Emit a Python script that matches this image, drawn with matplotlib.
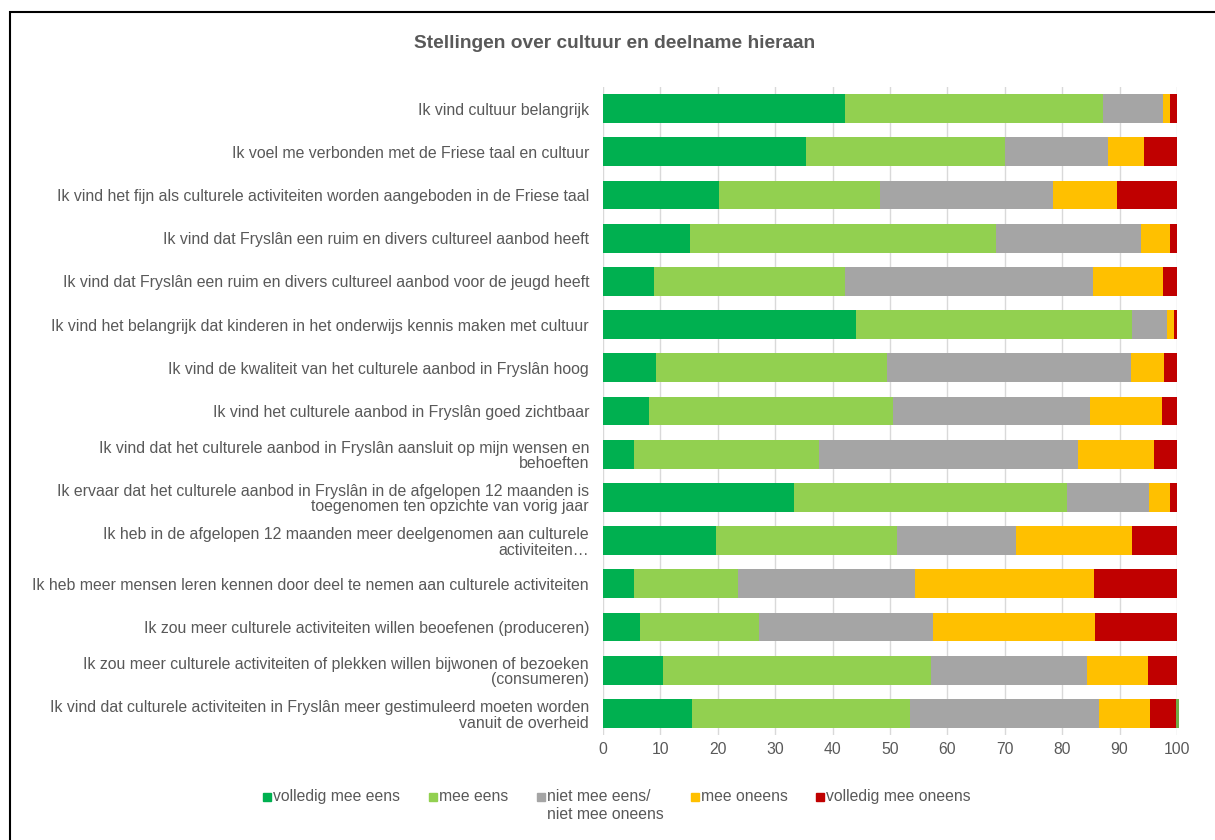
import matplotlib.pyplot as plt
import numpy as np
from matplotlib.patches import Rectangle

plt.rcParams['font.family'] = ['Liberation Sans', 'DejaVu Sans']

statements = [
    'Ik vind cultuur belangrijk',
    'Ik voel me verbonden met de Friese taal en cultuur',
    'Ik vind het fijn als culturele activiteiten worden aangeboden in de Friese taal',
    'Ik vind dat Fryslân een ruim en divers cultureel aanbod heeft',
    'Ik vind dat Fryslân een ruim en divers cultureel aanbod voor de jeugd heeft',
    'Ik vind het belangrijk dat kinderen in het onderwijs kennis maken met cultuur',
    'Ik vind de kwaliteit van het culturele aanbod in Fryslân hoog',
    'Ik vind het culturele aanbod in Fryslân goed zichtbaar',
    'Ik vind dat het culturele aanbod in Fryslân aansluit op mijn wensen en\nbehoeften',
    'Ik ervaar dat het culturele aanbod in Fryslân in de afgelopen 12 maanden is\ntoegenomen ten opzichte van vorig jaar',
    'Ik heb in de afgelopen 12 maanden meer deelgenomen aan culturele\nactiviteiten…',
    'Ik heb meer mensen leren kennen door deel te nemen aan culturele activiteiten',
    'Ik zou meer culturele activiteiten willen beoefenen (produceren)',
    'Ik zou meer culturele activiteiten of plekken willen bijwonen of bezoeken\n(consumeren)',
    'Ik vind dat culturele activiteiten in Fryslân meer gestimuleerd moeten worden\nvanuit de overheid',
]

volledig_eens = [42.1, 35.3, 20.2, 15.2, 8.9, 44.0, 9.3, 8.1, 5.4, 33.3, 19.7, 5.4, 6.5, 10.5, 15.5]
mee_eens = [45.0, 34.8, 28.0, 53.2, 33.3, 48.1, 40.1, 42.5, 32.3, 47.5, 31.6, 18.1, 20.7, 46.7, 38.0]
neutraal = [10.4, 17.8, 30.2, 25.3, 43.2, 6.2, 42.6, 34.2, 45.1, 14.3, 20.7, 30.8, 30.3, 27.1, 32.9]
mee_oneens = [1.2, 6.3, 11.2, 5.1, 12.2, 1.1, 5.8, 12.6, 13.2, 3.6, 20.1, 31.3, 28.2, 10.6, 8.9]
volledig_oneens = [1.3, 5.8, 10.4, 1.2, 2.4, 0.6, 2.2, 2.6, 4.0, 1.3, 7.9, 14.4, 14.3, 5.1, 4.5]
overig = [0, 0, 0, 0, 0, 0, 0, 0, 0, 0, 0, 0, 0, 0, 0.6]

series = [volledig_eens, mee_eens, neutraal, mee_oneens, volledig_oneens]
labels = ['volledig mee eens', 'mee eens', 'niet mee eens/\nniet mee oneens',
          'mee oneens', 'volledig mee oneens']
colors = ['#00B050', '#92D050', '#A5A5A5', '#FFC000', '#C00000']

W, H = 1215, 840
fig = plt.figure(figsize=(W / 100, H / 100), dpi=100)
ax = fig.add_axes([603 / W, 1 - 735 / H, 574 / W, (735 - 87) / H])

y = np.arange(len(statements))
left = np.zeros(len(statements))
for vals, lab, col in zip(series, labels, colors):
    ax.barh(y, vals, left=left, height=0.67, color=col, label=lab, zorder=3)
    left += np.array(vals)
ax.barh(y, overig, left=left, height=0.67, color='#70AD47', zorder=3, clip_on=False)

ax.set_ylim(len(statements) - 0.5, -0.5)
ax.set_xlim(0, 100)
ax.set_xticks(range(0, 101, 10))
ax.set_yticks(y)
ax.set_yticklabels(statements, fontsize=11.4, color='#595959', linespacing=1.05)
ax.tick_params(axis='y', length=0, pad=10)
ax.tick_params(axis='x', length=0, labelsize=11.3, labelcolor='#595959', pad=5)
ax.grid(axis='x', color='#D9D9D9', linewidth=1, zorder=0)
for s in ax.spines.values():
    s.set_visible(False)

fig.text(615 / W, 1 - 44 / H, 'Stellingen over cultuur en deelname hieraan',
         ha='center', va='center', fontsize=13.8, fontweight='bold', color='#595959')

# legend drawn by hand so the two-line entry hangs below the row
leg_x = [263, 429, 537, 691, 816]
leg_y = 797
for lx, lab, col in zip(leg_x, labels, colors):
    fig.add_artist(Rectangle((lx / W, 1 - (leg_y + 4) / H), 8 / W, 8 / H,
                             transform=fig.transFigure, color=col))
    fig.text((lx + 10) / W, 1 - (leg_y - 8) / H, lab, ha='left', va='top',
             fontsize=11.3, color='#595959', linespacing=1.25)

fig.add_artist(Rectangle((10 / W, -0.1), 1.2, 1 - 12 / H + 0.1,
                         transform=fig.transFigure, fill=False,
                         edgecolor='black', linewidth=1.5))

fig.savefig('out.png', dpi=100)
